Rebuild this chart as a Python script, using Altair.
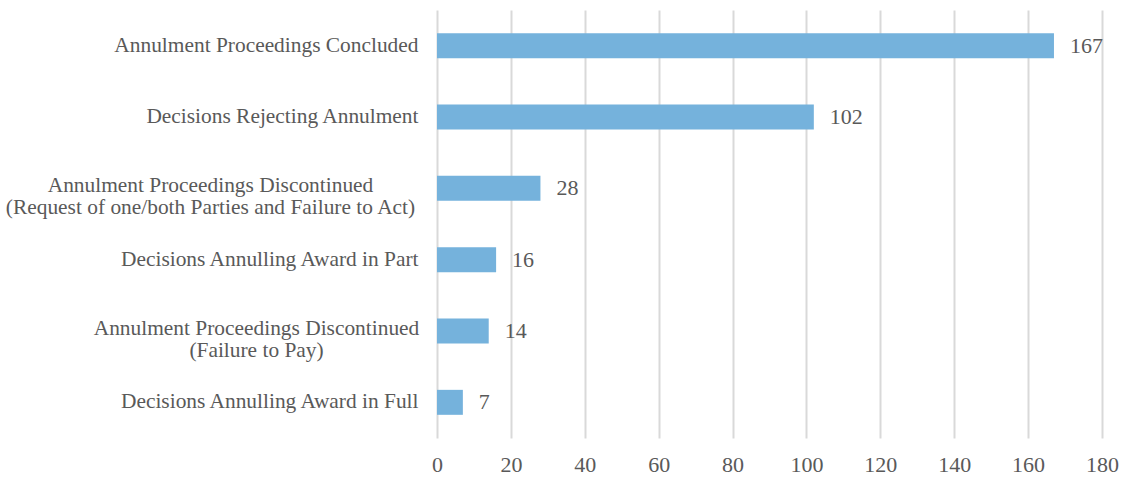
import altair as alt
import pandas as pd

categories = [
    "Annulment Proceedings Concluded",
    "Decisions Rejecting Annulment",
    "Annulment Proceedings Discontinued|(Request of one/both Parties and Failure to Act)",
    "Decisions Annulling Award in Part",
    "Annulment Proceedings Discontinued|(Failure to Pay)",
    "Decisions Annulling Award in Full",
]
values = [167, 102, 28, 16, 14, 7]
x_ticks = [0, 20, 40, 60, 80, 100, 120, 140, 160, 180]

df = pd.DataFrame({"cat": categories, "val": values})

FONT = "Liberation Serif"
BAR = "#75B2DC"
TXT = "#595959"

y_enc = alt.Y(
    "cat:N",
    sort=categories,
    title=None,
    scale=alt.Scale(paddingInner=0.65, paddingOuter=0.325),
    axis=alt.Axis(
        labelExpr="split(datum.label, '|')",
        labelFont=FONT,
        labelFontSize=21.4,
        labelColor=TXT,
        labelAlign={
            "condition": {"test": "indexof(datum.value, '|') >= 0", "value": "center"},
            "value": "right",
        },
        labelPadding={
            "condition": [
                {"test": "indexof(datum.value, 'Request') >= 0", "value": 227},
                {"test": "indexof(datum.value, 'Failure to Pay') >= 0", "value": 181},
            ],
            "value": 19,
        },
        labelOffset={
            "condition": {"test": "indexof(datum.value, '|') >= 0", "value": -2},
            "value": 0,
        },
        labelLineHeight=22,
        labelLimit=500,
        ticks=False,
        domain=False,
        grid=False,
    ),
)

x_enc = alt.X(
    "val:Q",
    title=None,
    scale=alt.Scale(domain=[0, 180], nice=False),
    axis=alt.Axis(
        values=x_ticks,
        labelFont=FONT,
        labelFontSize=22,
        labelColor=TXT,
        labelPadding=16,
        labelFlush=False,
        ticks=False,
        domain=False,
        grid=True,
        gridColor="#D9D9D9",
        gridWidth=2,
    ),
)

bars = alt.Chart(df).mark_bar(color=BAR).encode(y=y_enc, x=x_enc)
labels = alt.Chart(df).mark_text(
    align="left", baseline="middle", dx=16, font=FONT, fontSize=22, color=TXT
).encode(y=alt.Y("cat:N", sort=categories), x="val:Q", text="val:Q")

chart = (
    alt.layer(bars, labels)
    .properties(
        width=665,
        height=428,
        autosize=alt.AutoSizeParams(type="none"),
        padding={"left": 437, "top": 10, "right": 21, "bottom": 39},
        background="white",
    )
    .configure_view(stroke=None)
)

chart.save("out.html", embed_options={"renderer": "svg", "actions": False})
